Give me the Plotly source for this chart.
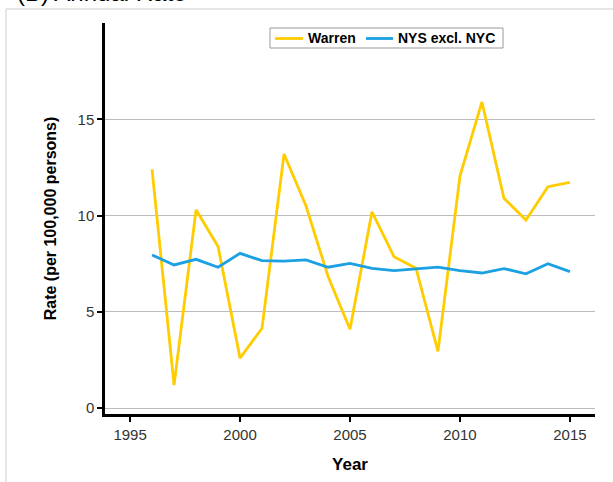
import plotly.graph_objects as go

years = list(range(1996, 2016))
warren = [12.4, 1.2, 10.3, 8.4, 2.6, 4.15, 13.2, 10.5, 6.85, 4.1,
          10.2, 7.87, 7.27, 2.95, 12.05, 15.9, 10.9, 9.77, 11.5, 11.73]
nys = [7.96, 7.44, 7.73, 7.32, 8.04, 7.66, 7.64, 7.70, 7.32, 7.52,
       7.26, 7.14, 7.23, 7.33, 7.14, 7.02, 7.25, 6.98, 7.50, 7.09]
series_names = ["Warren", "NYS excl. NYC"]
series_colors = ["#FFCC00", "#1BA1E2"]
x_ticks = [1995, 2000, 2005, 2010, 2015]
y_ticks = [0, 5, 10, 15]

W, H = 613, 482
L, R, T, B = 105, 595, 23, 414
pw, ph = R - L, B - T

def px(x):
    return (x - L) / pw

def py(y):
    return (B - y) / ph

FONT = "Liberation Sans, Arial, sans-serif"

fig = go.Figure()
for name, vals, col in zip(series_names, [warren, nys], series_colors):
    fig.add_trace(go.Scatter(x=years, y=vals, mode="lines", name=name, showlegend=False,
                             line=dict(color=col, width=2.8)))

# legend box drawn as layout decoration
leg_y = py(38.5)
shapes = [
    dict(type="line", xref="paper", yref="paper", x0=px(6), x1=px(W + 5), y0=py(9), y1=py(9),
         line=dict(color="#cccccc", width=1)),
    dict(type="line", xref="paper", yref="paper", x0=px(6), x1=px(6), y0=py(9), y1=py(H + 5),
         line=dict(color="#cccccc", width=1)),
    dict(type="rect", xref="paper", yref="paper", x0=px(270), x1=px(503), y0=py(48), y1=py(28),
         line=dict(color="#999999", width=1), fillcolor="white", layer="above"),
    dict(type="line", xref="paper", yref="paper", x0=px(275), x1=px(303), y0=leg_y, y1=leg_y,
         line=dict(color=series_colors[0], width=2.8), layer="above"),
    dict(type="line", xref="paper", yref="paper", x0=px(366), x1=px(393), y0=leg_y, y1=leg_y,
         line=dict(color=series_colors[1], width=2.8), layer="above"),
]
annotations = [
    dict(text="(B) Annual Rate", xref="paper", yref="paper",
         x=px(15), y=py(8), xanchor="left", yanchor="bottom",
         showarrow=False, font=dict(size=24, color="black", family=FONT)),
    dict(text="<b>" + series_names[0] + "</b>", xref="paper", yref="paper",
         x=px(306), y=leg_y, xanchor="left", yanchor="middle", showarrow=False,
         font=dict(size=14, color="black", family=FONT)),
    dict(text="<b>" + series_names[1] + "</b>", xref="paper", yref="paper",
         x=px(396), y=leg_y, xanchor="left", yanchor="middle", showarrow=False,
         font=dict(size=14, color="black", family=FONT)),
]

fig.update_layout(
    width=W, height=H,
    margin=dict(l=L, r=W - R, t=T, b=H - B, autoexpand=False),
    plot_bgcolor="white", paper_bgcolor="white",
    font=dict(family=FONT, color="#333333"),
    showlegend=False,
    annotations=annotations,
    shapes=shapes,
)

fig.update_xaxes(range=[1993.86, 2016.14], tickvals=x_ticks, showgrid=False, zeroline=False,
                 showline=True, linecolor="black", linewidth=2.5,
                 ticks="outside", ticklen=5, tickwidth=2, tickcolor="black",
                 tickfont=dict(size=15, color="#333333"),
                 title=dict(text="Year", font=dict(size=17, color="black", weight="bold"), standoff=17))
fig.update_yaxes(range=[-0.3, 20], tickvals=y_ticks, showgrid=True, gridcolor="#bbbbbb", gridwidth=1,
                 zeroline=False, showline=True, linecolor="black", linewidth=2.5,
                 ticks="outside", ticklen=5, tickwidth=2, tickcolor="black",
                 tickfont=dict(size=15, color="#333333"),
                 title=dict(text="Rate (per 100,000 persons)", font=dict(size=16, color="black", weight="bold"), standoff=17))

fig.write_html("out.html", config={"displayModeBar": False},
               post_script="document.body.style.margin='0';")
